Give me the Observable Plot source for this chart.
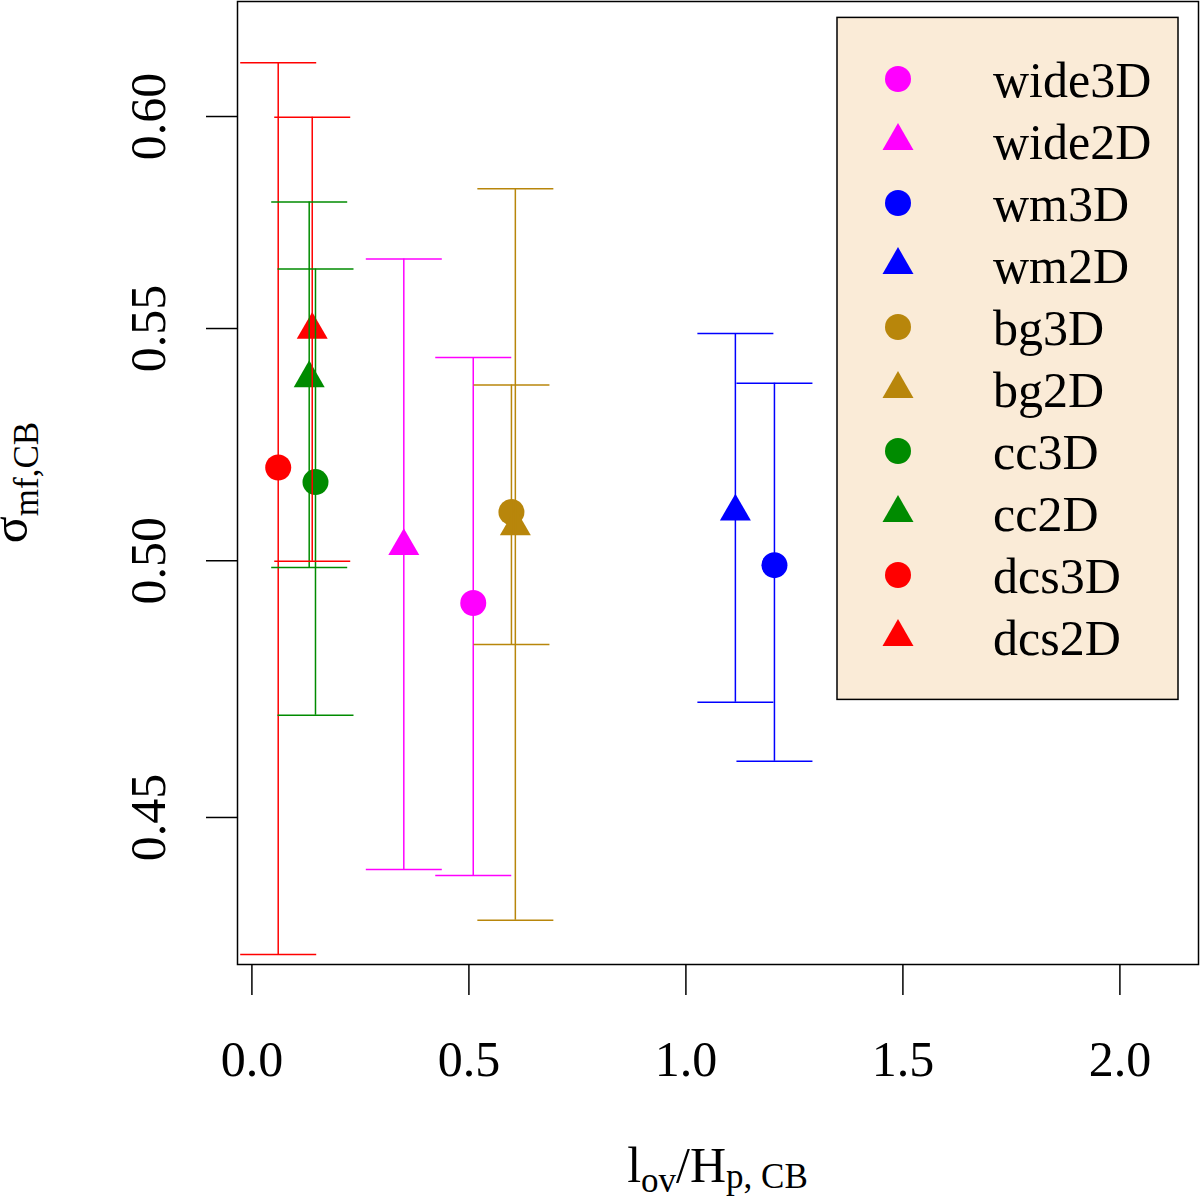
<!DOCTYPE html>
<html>
<head>
<meta charset="utf-8">
<script src="https://cdn.jsdelivr.net/npm/d3@7"></script>
<script src="https://cdn.jsdelivr.net/npm/@observablehq/plot@0.6"></script>
<style>
  html, body { margin: 0; padding: 0; background: #fff; }
  #chart { width: 1200px; height: 1198px; }
</style>
</head>
<body>
<div id="chart"></div>
<script>
// sigma_mf,CB vs l_ov/H_p,CB for each simulation set (3D = circle, 2D = triangle)
const seriesNames = ["wide3D", "wide2D", "wm3D", "wm2D", "bg3D", "bg2D", "cc3D", "cc2D", "dcs3D", "dcs2D"];
const lov =      [0.510, 0.350, 1.204, 1.114, 0.598, 0.607, 0.1465, 0.132, 0.0606, 0.139];
const sigma =    [0.4914, 0.5030, 0.4991, 0.5102, 0.5101, 0.5071, 0.5164, 0.5389, 0.5195, 0.5497];
const sigmaLo =  [0.4394, 0.4405, 0.4605, 0.4718, 0.4831, 0.4314, 0.4693, 0.4986, 0.4254, 0.4999];
const sigmaHi =  [0.5435, 0.5659, 0.5378, 0.5489, 0.5374, 0.5825, 0.5636, 0.5793, 0.6134, 0.5998];

const groupNames = ["wide", "wm", "bg", "cc", "dcs"];
const groupColors = ["#ff00ff", "#0000ff", "#b8860b", "#008b00", "#ff0000"];

const xTicks = [0, 0.5, 1, 1.5, 2];
const yTicks = [0.45, 0.5, 0.55, 0.6];

const FONT = "'Liberation Serif', 'Times New Roman', serif";
const CIRCLE_R = 13;
const TRIANGLE_R = 11.5;
const CAP_HALF = 38;

const rows = seriesNames.map((name, i) => ({
  name,
  group: name.replace(/[23]D$/, ""),
  dim: name.slice(-2),
  lov: lov[i],
  sigma: sigma[i],
  lo: sigmaLo[i],
  hi: sigmaHi[i]
}));

// horizontal bar used as error-bar cap; half-width = r in px
const capSymbol = {
  draw(context, size) {
    const w = Math.sqrt(size / Math.PI);
    context.moveTo(-w, 0);
    context.lineTo(w, 0);
  }
};

const W = 1200, H = 1198;
const M = { left: 237, right: 2, top: 1, bottom: 234 };

const plot = Plot.plot({
  width: W,
  height: H,
  marginLeft: M.left,
  marginRight: M.right,
  marginTop: M.top,
  marginBottom: M.bottom,
  style: { fontFamily: FONT, fontSize: "50px", background: "#fff", overflow: "visible" },
  x: { domain: [-0.0332, 2.1811] },
  y: { type: "log", domain: [0.42365, 0.629] },
  color: { domain: groupNames, range: groupColors },
  marks: [
    Plot.dot(rows.filter((d) => d.dim === "3D"), {
      x: "lov", y: "sigma", r: CIRCLE_R, symbol: "circle", fill: "group", stroke: "none"
    }),
    Plot.dot(rows.filter((d) => d.dim === "2D"), {
      x: "lov", y: "sigma", r: TRIANGLE_R, symbol: "triangle", fill: "group", stroke: "none"
    }),
    Plot.ruleX(rows, { x: "lov", y1: "lo", y2: "hi", stroke: "group", strokeWidth: 1.5 }),
    Plot.dot(rows, { x: "lov", y: "lo", symbol: capSymbol, r: CAP_HALF, stroke: "group", fill: "none", strokeWidth: 1.5 }),
    Plot.dot(rows, { x: "lov", y: "hi", symbol: capSymbol, r: CAP_HALF, stroke: "group", fill: "none", strokeWidth: 1.5 }),
    Plot.frame({ stroke: "black", strokeWidth: 1.5 }),
    Plot.axisX({
      ticks: xTicks, tickFormat: d3.format(".1f"), tickSize: 31, tickPadding: 44.5,
      label: null, fontSize: 50, strokeWidth: 1.5
    }),
    Plot.axisY({
      ticks: yTicks, tickFormat: d3.format(".2f"), tickSize: 31, tickPadding: 41.7,
      tickRotate: -90, textAnchor: "middle", lineAnchor: "bottom",
      label: null, fontSize: 50, strokeWidth: 1.5
    })
  ]
});

document.getElementById("chart").appendChild(plot);

const svg = d3.select(plot);

// legend box in the top-right corner of the panel
const LEG_W = 341, LEG_ROW = 62;
const legend = svg.append("g")
  .attr("transform", `translate(${W - M.right - 20 - LEG_W},${M.top + 16.4})`);
legend.append("rect")
  .attr("width", LEG_W)
  .attr("height", LEG_ROW * (rows.length + 1))
  .attr("fill", "#faebd7")
  .attr("stroke", "black")
  .attr("stroke-width", 1.5);
rows.forEach((d, i) => {
  const y = LEG_ROW * (i + 1) - 0.4;
  const color = groupColors[groupNames.indexOf(d.group)];
  const sym = d.dim === "3D"
    ? d3.symbol(d3.symbolCircle, Math.PI * CIRCLE_R * CIRCLE_R)
    : d3.symbol(d3.symbolTriangle, Math.PI * TRIANGLE_R * TRIANGLE_R);
  legend.append("path")
    .attr("transform", `translate(61,${y})`)
    .attr("d", sym())
    .attr("fill", color);
  legend.append("text")
    .attr("x", 156)
    .attr("y", y + 18)
    .attr("text-anchor", "start")
    .attr("font-family", FONT)
    .attr("font-size", 50)
    .attr("fill", "black")
    .text(d.name);
});

// axis titles with subscripts
const yLab = svg.append("text")
  .attr("transform", `translate(27,${M.top + (H - M.top - M.bottom) / 2}) rotate(-90)`)
  .attr("text-anchor", "middle")
  .attr("font-family", FONT)
  .attr("font-size", 50)
  .attr("fill", "black");
yLab.append("tspan").text("σ");
yLab.append("tspan").attr("font-size", 35).attr("dy", 11).text("mf,CB");

const xLab = svg.append("text")
  .attr("x", M.left + (W - M.left - M.right) / 2)
  .attr("y", 1181.7)
  .attr("text-anchor", "middle")
  .attr("font-family", FONT)
  .attr("font-size", 50)
  .attr("fill", "black");
xLab.append("tspan").text("l");
xLab.append("tspan").attr("font-size", 35).attr("dy", 10).text("ov");
xLab.append("tspan").attr("dy", -10).text("/H");
xLab.append("tspan").attr("font-size", 35).attr("dy", 6.5).text("p, CB");
</script>
</body>
</html>
